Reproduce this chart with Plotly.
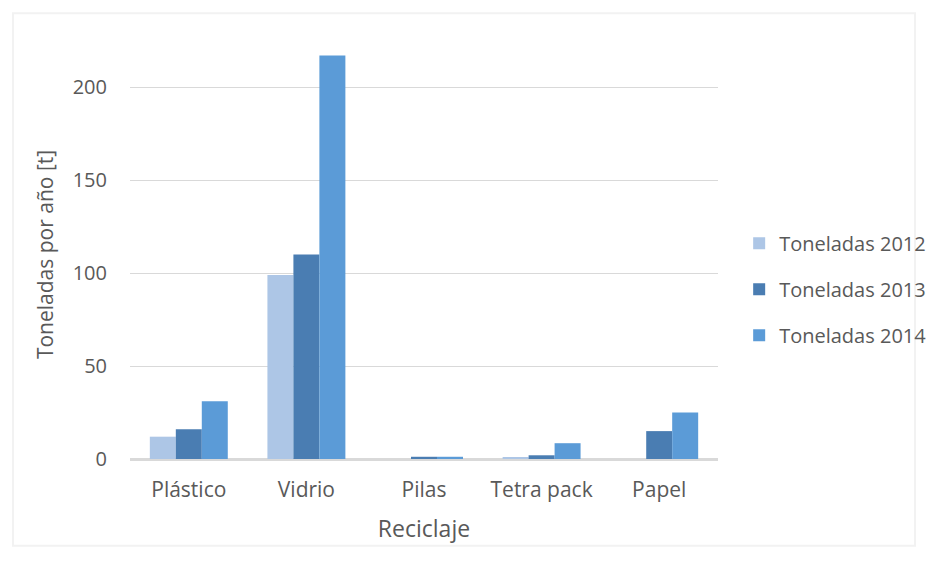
import plotly.graph_objects as go

categories = ["Plástico", "Vidrio", "Pilas", "Tetra pack", "Papel"]
t2012 = [12, 99, 0, 1, 0]
t2013 = [16, 110, 1.2, 2, 15]
t2014 = [31, 217, 1.2, 8.5, 25]
series_names = ["Toneladas 2012", "Toneladas 2013", "Toneladas 2014"]
colors = ["#ADC6E6", "#4A7DB2", "#5B9BD7"]
y_ticks = [0, 50, 100, 150, 200]

fig = go.Figure()
for name, vals, c in zip(series_names, [t2012, t2013, t2014], colors):
    fig.add_trace(go.Bar(x=categories, y=vals, name=name, marker_color=c,
                         marker_line_width=0, legendgroup=name))

font_fam = "'Open Sans', Lato, sans-serif"
gray = "#595959"
fig.update_layout(
    width=926, height=555,
    paper_bgcolor="white", plot_bgcolor="white",
    barmode="group", bargap=0.337, bargroupgap=0,
    margin=dict(l=122, r=216, t=42, b=104, autoexpand=False),
    font=dict(family=font_fam, size=18, color=gray),
    showlegend=True,
    legend=dict(x=1.036, y=0.415, xanchor="left", yanchor="middle",
                font=dict(size=20, color=gray), traceorder="grouped",
                tracegroupgap=17, itemwidth=30, bgcolor="rgba(0,0,0,0)"),
    xaxis=dict(title=dict(text="Reciclaje", font=dict(size=23, color=gray), standoff=19),
               automargin=False,
               showline=True, linecolor="#D9D9D9", linewidth=1.5,
               ticks="", tickfont=dict(size=21, color=gray), ticklabelstandoff=11,
               showgrid=False),
    yaxis=dict(title=dict(text="Toneladas por año [t]", font=dict(size=21, color=gray), standoff=13),
               automargin=False,
               range=[0, 220], tickvals=y_ticks, showgrid=True, gridcolor="#D9D9D9",
               gridwidth=1, zeroline=True, zerolinecolor="#D9D9D9",
               tickfont=dict(size=20, color=gray), ticklabelstandoff=22,
               showline=False),
    shapes=[dict(type="rect", xref="paper", yref="paper", x0=-0.199, x1=1.335, y0=-0.212, y1=1.09,
                 line=dict(color="#F2F2F2", width=2), layer="below")],
)

fig.write_html("out.html")
